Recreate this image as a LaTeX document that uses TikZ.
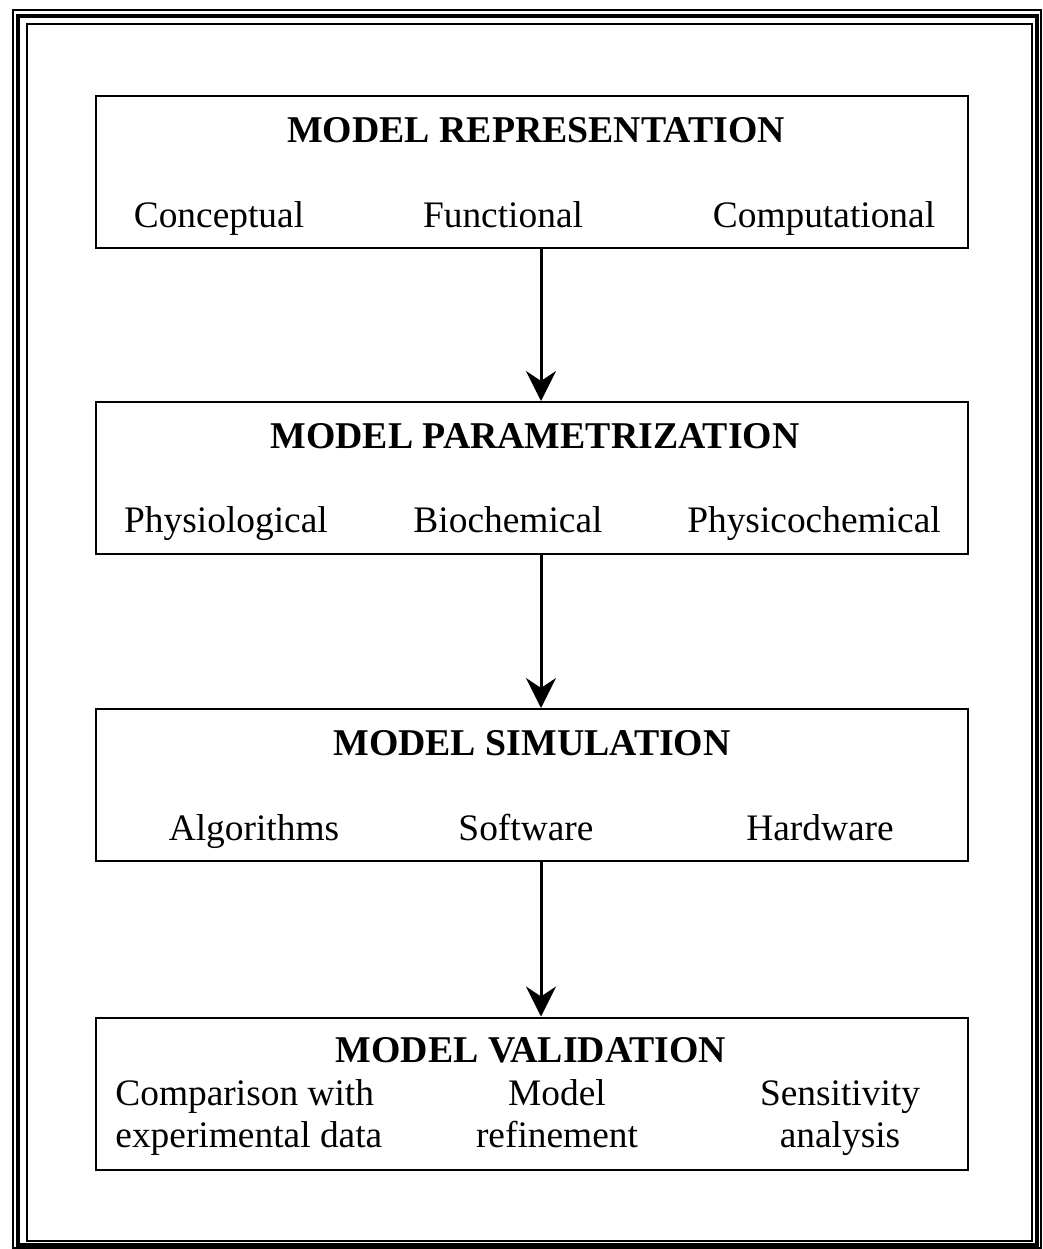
\documentclass[tikz,border=0pt]{standalone}
\usepackage{fontspec}
\setmainfont{Liberation Serif}
\usetikzlibrary{arrows.meta}
\begin{document}
\begin{tikzpicture}[x=0.5pt,y=-0.5pt,
  every node/.style={font=\fontsize{18.7}{21}\selectfont},
  stagebox/.style={draw,line width=1pt,minimum width=436pt,minimum height=76pt,inner sep=0pt},
  head/.style={anchor=base,font=\fontsize{18.9}{21}\selectfont\bfseries},
  item/.style={anchor=base,align=center,inner sep=0pt},
  flow/.style={line width=1.5pt,-{Stealth[length=15pt,width=15pt,inset=5pt]}}]
\useasboundingbox (0,0) rectangle (1043,1249);
% frame
\draw[line width=0.8pt] (13,10) rectangle (1041,1248);
\draw[line width=2pt] (18,16) rectangle (1037,1245);
\draw[line width=0.8pt] (27,24) rectangle (1032,1241);
% boxes
\node[stagebox] (rep) at (532,171.5) {};
\node[stagebox] (par) at (532,478) {};
\node[stagebox] (sim) at (532,785) {};
\node[stagebox] (val) at (532,1093.5) {};
% representation
\node[head] (rephead) at (536,142) {MODEL REPRESENTATION};
\node[item] (concept) at (219,227) {Conceptual};
\node[item] (funct) at (503,227) {Functional};
\node[item] (comput) at (824,227) {Computational};
% parametrization
\node[head] (parhead) at (535,448) {MODEL PARAMETRIZATION};
\node[item] (physio) at (226,532) {Physiological};
\node[item] (biochem) at (508,532) {Biochemical};
\node[item] (physchem) at (814,532) {Physicochemical};
% simulation
\node[head] (simhead) at (532,755) {MODEL SIMULATION};
\node[item] (algo) at (254,840) {Algorithms};
\node[item] (soft) at (526,840) {Software};
\node[item] (hard) at (820,840) {Hardware};
% validation (base = last line)
\node[head] (valhead) at (531,1062) {MODEL VALIDATION};
\node[item,align=left,anchor=base west] (compare) at (115,1147) {Comparison with\\experimental data};
\node[item] (refine) at (557,1147) {Model\\refinement};
\node[item] (sens) at (840,1147) {Sensitivity\\analysis};
% arrows
\draw[flow] (rep.south -| 541,0) -- (par.north -| 541,0);
\draw[flow] (par.south -| 541,0) -- (sim.north -| 541,0);
\draw[flow] (sim.south -| 541,0) -- (val.north -| 541,0);
\end{tikzpicture}
\end{document}
